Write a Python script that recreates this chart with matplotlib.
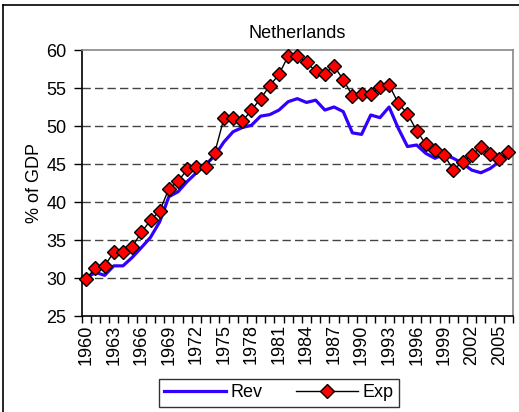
import matplotlib
matplotlib.use("Agg")
import matplotlib.pyplot as plt
import numpy as np
from matplotlib.lines import Line2D

years = list(range(1960, 2007))
rev = [30.0, 30.75, 30.35, 31.6, 31.6, 32.7, 34.0, 35.35, 37.4, 40.7,
       41.35, 42.7, 43.85, 44.9, 46.1, 47.9, 49.25, 49.8, 50.1, 51.3,
       51.5, 52.1, 53.2, 53.6, 53.1, 53.4, 52.1, 52.5, 51.9, 49.1,
       48.9, 51.45, 51.1, 52.5, 49.7, 47.3, 47.5, 46.4, 45.75, 46.3,
       45.75, 45.1, 44.2, 43.85, 44.4, 45.3, 46.3]
exp = [29.9, 31.35, 31.6, 33.4, 33.4, 34.1, 36.0, 37.6, 38.8, 41.75,
       42.7, 44.3, 44.6, 44.6, 46.5, 51.0, 51.1, 50.6, 52.1, 53.6,
       55.3, 56.8, 59.2, 59.2, 58.4, 57.2, 56.9, 57.9, 56.1, 54.0,
       54.2, 54.2, 55.1, 55.4, 53.0, 51.6, 49.4, 47.6, 46.8, 46.2,
       44.2, 45.3, 46.2, 47.2, 46.3, 45.7, 46.6]
yticks = [25, 30, 35, 40, 45, 50, 55, 60]

FS = 13
plt.rcParams['font.family'] = ['Liberation Sans', 'DejaVu Sans']
fig = plt.figure(figsize=(5.19, 4.12), dpi=100)
ax = fig.add_axes([0.1574, 0.233, 0.8310, 0.6456])

x = np.arange(len(years))
for yv in yticks[1:-1]:
    ax.axhline(yv, color='#444444', lw=1.0, dashes=(6, 3), zorder=1)

ax.plot(x, rev, color='#3300FF', lw=2.3, zorder=2, label='Rev')
ax.plot(x, exp, color='black', lw=1.0, marker='D', markersize=7.5,
        markerfacecolor='#FF0000', markeredgecolor='black', markeredgewidth=1.0,
        zorder=3, label='Exp', clip_on=False)

ax.set_xlim(-0.5, len(years) - 0.5)
ax.set_ylim(25, 60)
ax.set_yticks(yticks)
ax.set_yticklabels([str(v) for v in yticks], fontsize=FS)
ax.set_xticks(x[::3])
ax.set_xticklabels([str(y) for y in years[::3]], rotation=90, fontsize=FS)
ax.set_xticks(np.arange(len(years) + 1) - 0.5, minor=True)
ax.tick_params(axis='x', which='major', length=0, pad=6)
ax.tick_params(axis='x', which='minor', length=5, width=1, direction='out')
ax.tick_params(axis='y', length=6, width=1, direction='out', pad=5)

for s in ['left', 'bottom']:
    ax.spines[s].set_color('black')
    ax.spines[s].set_linewidth(1.2)
for s in ['top', 'right']:
    ax.spines[s].set_color('#888888')
    ax.spines[s].set_linewidth(1.2)

ax.set_title('Netherlands', fontsize=FS, pad=9)
ax.set_ylabel('% of GDP', fontsize=FS, labelpad=2)

handles = [Line2D([], [], color='#3300FF', lw=2.3),
           Line2D([], [], color='black', lw=1.0, marker='D', markersize=7.5,
                  markerfacecolor='#FF0000', markeredgecolor='black')]
leg = fig.legend(handles, ['Rev', 'Exp'], loc='center', bbox_to_anchor=(0.537, 0.047),
                 ncol=2, fontsize=FS, frameon=True, fancybox=False,
                 handlelength=3.4, columnspacing=1.9, handletextpad=0.25,
                 borderpad=0.3, borderaxespad=0.0, edgecolor='black')
leg.get_frame().set_linewidth(1.0)

# outer chart frame (left & top visible)
fig.add_artist(Line2D([0.006, 0.006], [0.0, 0.988], color='black', lw=1.2,
                      transform=fig.transFigure))
fig.add_artist(Line2D([0.006, 1.0], [0.988, 0.988], color='black', lw=1.2,
                      transform=fig.transFigure))

fig.savefig('out.png', dpi=100)
